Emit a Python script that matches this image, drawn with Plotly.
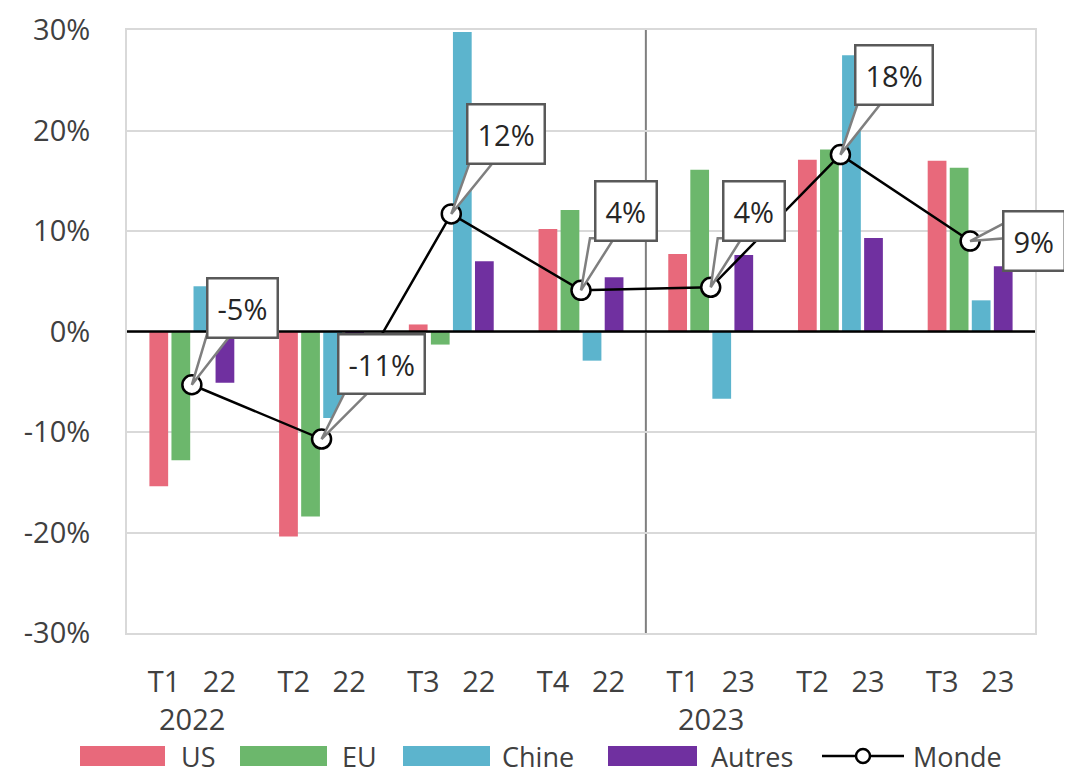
import plotly.graph_objects as go

categories = ["T1\u00a0\u00a0\u00a022", "T2\u00a0\u00a0\u00a022", "T3\u00a0\u00a0\u00a022", "T4\u00a0\u00a0\u00a022",
              "T1\u00a0\u00a0\u00a023", "T2\u00a0\u00a0\u00a023", "T3\u00a0\u00a0\u00a023"]
us = [-15.4, -20.4, 0.7, 10.2, 7.7, 17.1, 17.0]
eu = [-12.8, -18.4, -1.3, 12.1, 16.1, 18.1, 16.3]
chine = [4.5, -8.6, 29.8, -2.9, -6.7, 27.5, 3.1]
autres = [-5.1, -4.0, 7.0, 5.4, 7.6, 9.3, 6.5]
monde = [-5.3, -10.7, 11.7, 4.1, 4.4, 17.6, 9.0]
monde_labels = ["-5%", "-11%", "12%", "4%", "4%", "18%", "9%"]
years = ["2022", "2023"]
year_pos = [0, 4]
yticks = [-30, -20, -10, 0, 10, 20, 30]
series_names = ["US", "EU", "Chine", "Autres"]

FONT = "Open Sans"
TXT = "#404040"
colors = {"US": "#E8697B", "EU": "#6CB76C", "Chine": "#5CB4CD", "Autres": "#7030A0"}

# page has an 8px body margin: figure placed at (8, 8) in the 1072x776 window
OFF = 8
W, H = 1072 - OFF, 776 - OFF
ML = 127 - OFF
MT = 30 - OFF
PR = 1035 - OFF   # plot right edge in figure px
PB = 633 - OFF    # plot bottom edge in figure px
MR, MB = W - PR, H - PB
PW, PH = PR - ML, PB - MT
XS = PW / len(categories)   # px per category
YS = PH / 60.0              # px per percent

xs = list(range(len(categories)))

fig = go.Figure()
for name, vals in zip(series_names, [us, eu, chine, autres]):
    fig.add_trace(go.Bar(x=xs, y=vals, name=name, marker_color=colors[name],
                         marker_line_width=0, showlegend=False))
fig.add_trace(go.Scatter(x=xs, y=monde, name="Monde", mode="lines+markers",
                         line=dict(color="black", width=2.5), showlegend=False,
                         marker=dict(symbol="circle", size=19, color="white",
                                     line=dict(color="black", width=2.5))))

# callout box centre offsets (pixels, y down) and wedge side
offsets = [(51, -77, "b"), (60, -75, "b"), (55, -80, "b"), (45, -79, "b"),
           (43, -76, "b"), (54, -80, "b"), (64, 0, "l")]
HALF_H = 27
for i, (lab, (ax, ay, side)) in enumerate(zip(monde_labels, offsets)):
    x0, y0 = xs[i], monde[i]
    if side == "b":
        p1 = (ax - 36, ay + HALF_H)
        p2 = (ax - 12, ay + HALF_H)
    else:
        p1 = (ax - 26, ay - 20)
        p2 = (ax - 26, ay - 3)
    path = (f"M {x0},{y0} L {x0 + p1[0] / XS},{y0 - p1[1] / YS} "
            f"L {x0 + p2[0] / XS},{y0 - p2[1] / YS} Z")
    fig.add_shape(type="path", path=path, xref="x", yref="y", layer="above",
                  fillcolor="white", line=dict(color="#7F7F7F", width=2.5))
    fig.add_annotation(x=x0, y=y0, text=lab, showarrow=False, xanchor="center",
                       yanchor="middle", xshift=ax, yshift=-ay,
                       bgcolor="white", bordercolor="#595959", borderwidth=2.5, borderpad=9,
                       font=dict(family=FONT, size=29, color="#262626"))

for yr, p in zip(years, year_pos):
    fig.add_annotation(x=p, y=0, yref="paper", yshift=-85, text=yr, yanchor="middle",
                       showarrow=False, font=dict(family=FONT, size=29, color=TXT))

fig.add_shape(type="line", x0=3.5, x1=3.5, y0=-30, y1=30, xref="x", yref="y",
              layer="below", line=dict(color="#7F7F7F", width=2))
fig.add_shape(type="line", x0=0, x1=1, y0=0, y1=0, xref="paper", yref="y",
              layer="above", line=dict(color="black", width=2.5))

# manual legend (window pixel layout converted to paper coordinates)
def px(xp):
    return (xp - OFF - ML) / PW

def py(yp):
    return (PB - (yp - OFF)) / PH

leg_swatch = [(80, 165), (240, 327), (403, 490), (608, 697)]
leg_text_x = [179, 340, 500, 709]
LEG_Y = 756
for name, (a, b), tx in zip(series_names, leg_swatch, leg_text_x):
    fig.add_shape(type="rect", xref="paper", yref="paper", x0=px(a), x1=px(b),
                  y0=py(LEG_Y + 10), y1=py(LEG_Y - 10), fillcolor=colors[name], line_width=0)
    fig.add_annotation(xref="paper", yref="paper", x=px(tx), y=py(LEG_Y), text=name,
                       showarrow=False, xanchor="left", yanchor="middle",
                       font=dict(family=FONT, size=27, color=TXT))
fig.add_shape(type="line", xref="paper", yref="paper", x0=px(822), x1=px(904),
              y0=py(LEG_Y), y1=py(LEG_Y), line=dict(color="black", width=2.5))
fig.add_shape(type="circle", xref="paper", yref="paper", x0=px(856), x1=px(870),
              y0=py(LEG_Y + 7), y1=py(LEG_Y - 7), fillcolor="white",
              line=dict(color="black", width=2.5))
fig.add_annotation(xref="paper", yref="paper", x=px(911), y=py(LEG_Y), text="Monde",
                   showarrow=False, xanchor="left", yanchor="middle",
                   font=dict(family=FONT, size=27, color=TXT))

fig.update_layout(
    width=W, height=H,
    margin=dict(l=ML, r=MR, t=MT, b=MB, autoexpand=False),
    paper_bgcolor="white", plot_bgcolor="white",
    barmode="group", bargap=0.32, bargroupgap=0.15,
    font=dict(family=FONT, size=29, color=TXT),
    showlegend=False,
    xaxis=dict(range=[-0.5, 6.5], tickvals=xs, ticktext=categories,
               showgrid=False, ticks="", ticklabelstandoff=22, showline=True,
               linecolor="#D9D9D9", linewidth=2, mirror=True, zeroline=False),
    yaxis=dict(range=[-30, 30], tickvals=yticks, ticktext=[f"{v}%" for v in yticks],
               showgrid=True, gridcolor="#D9D9D9", gridwidth=2, zeroline=False,
               showline=True, linecolor="#D9D9D9", linewidth=2, mirror=True,
               ticks="", ticklabelstandoff=29),
)
fig.write_html("out.html")
